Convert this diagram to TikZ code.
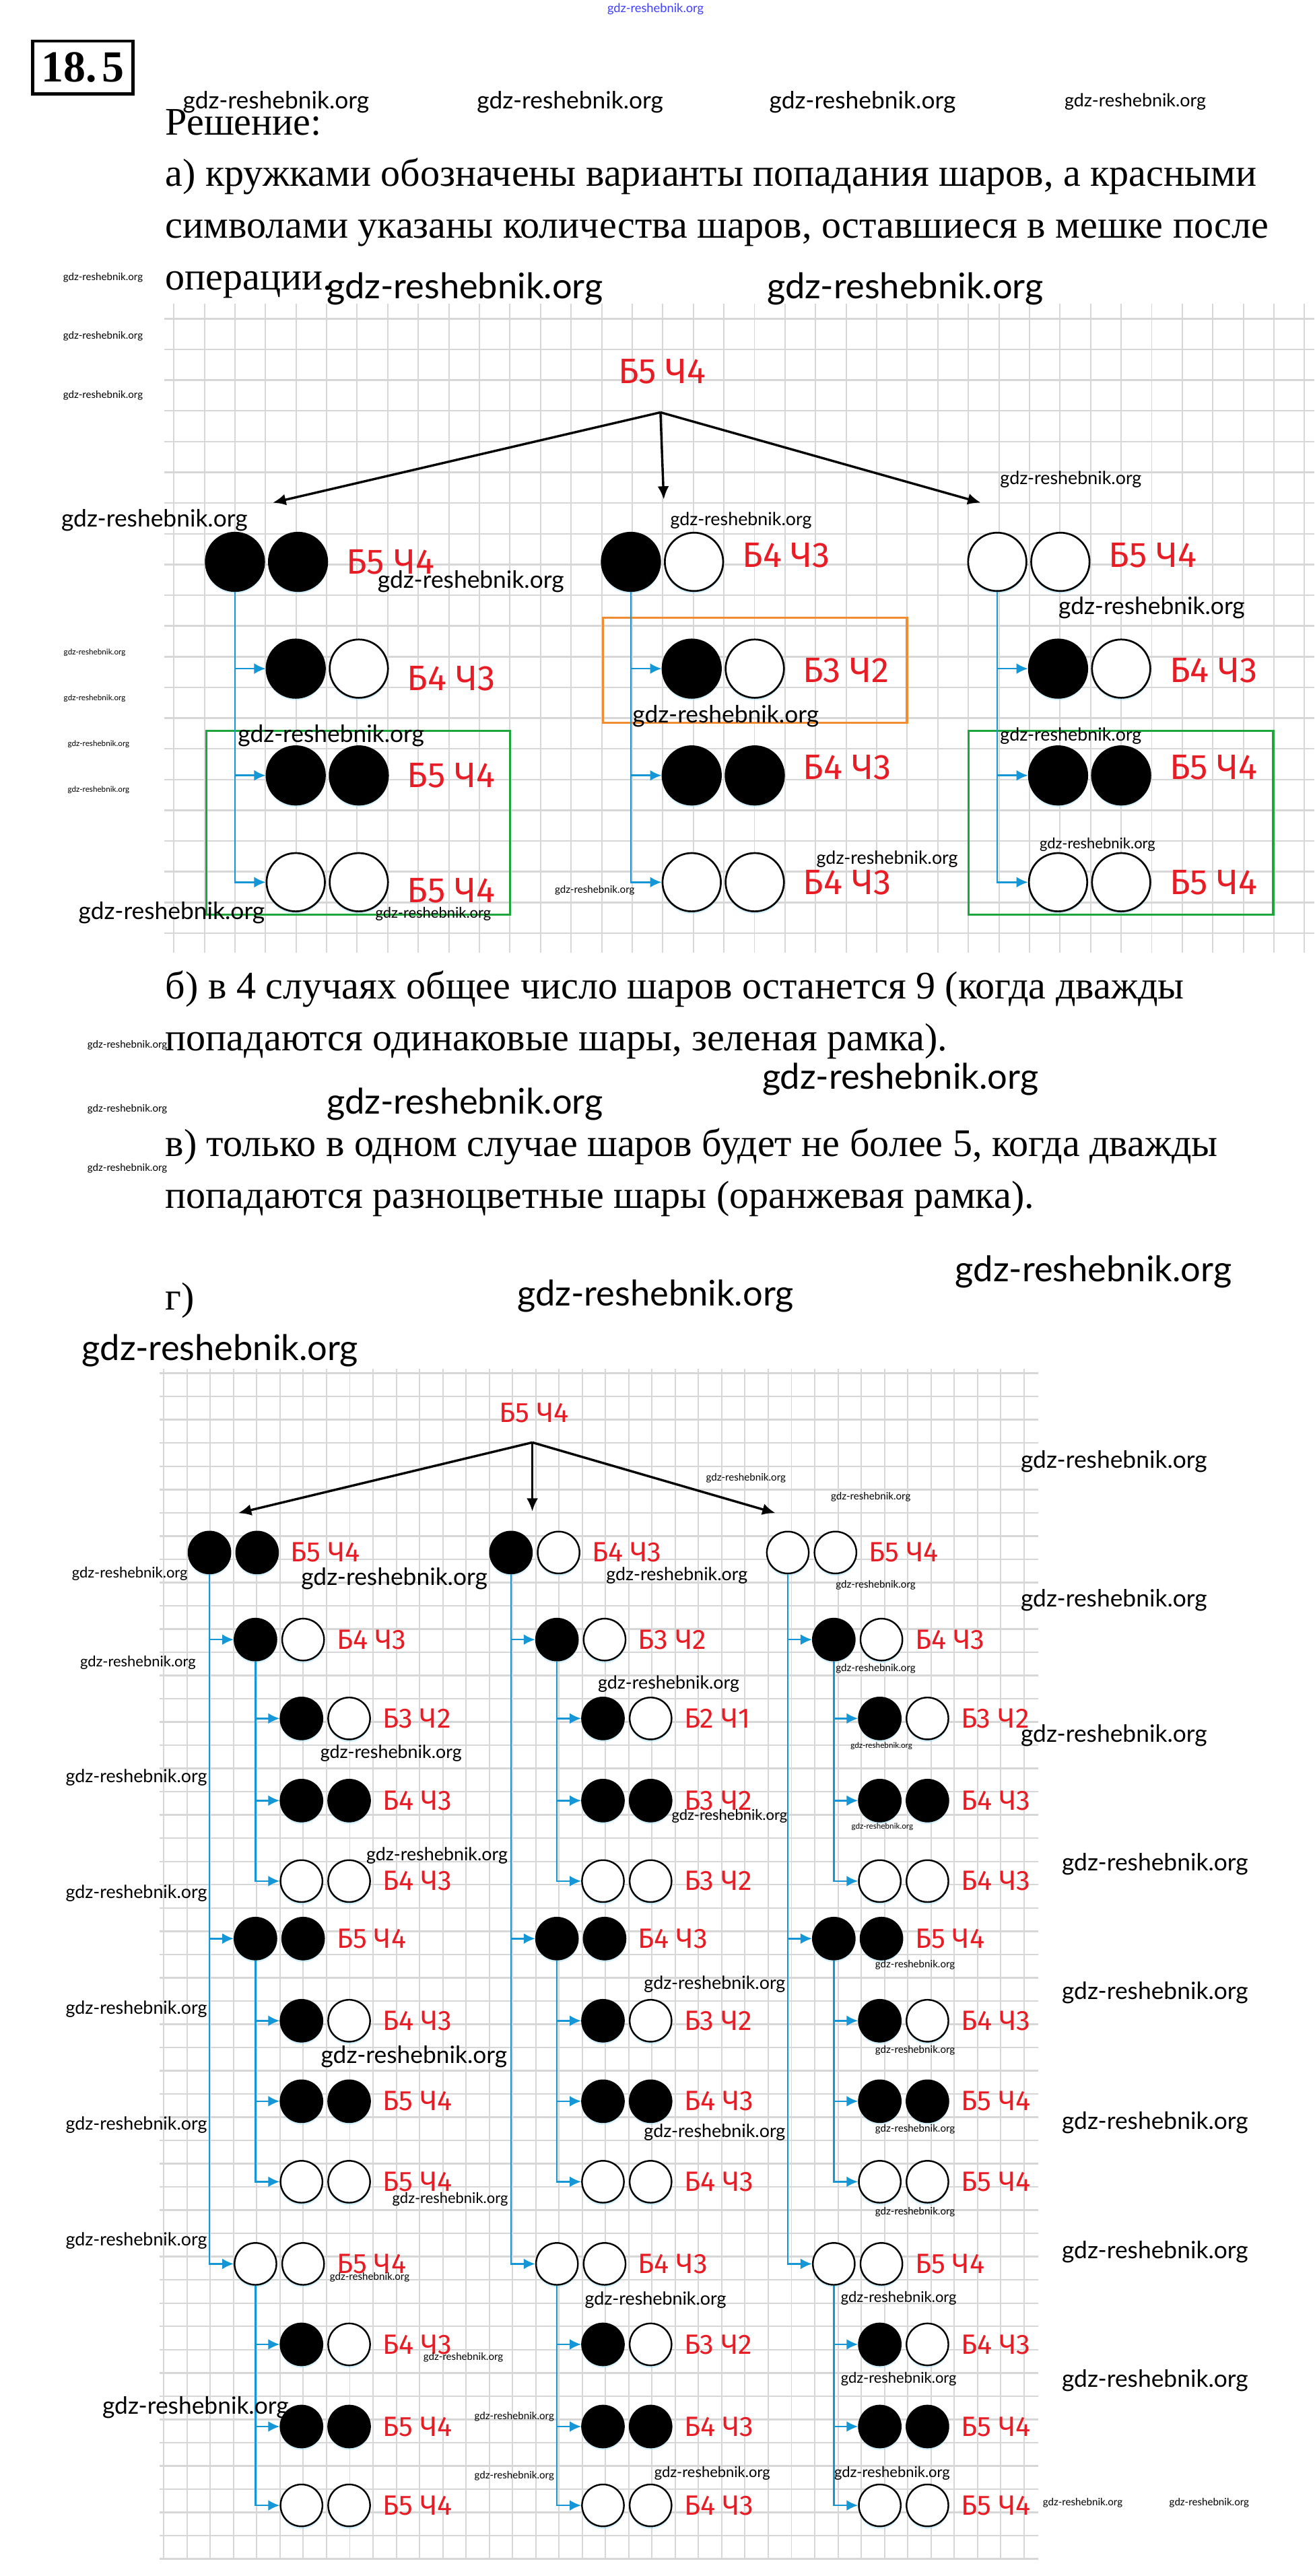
\documentclass[tikz,border=0pt]{standalone}
\usepackage{fontspec}
\setmainfont{Liberation Serif}
\newfontfamily\wmfont{Lato}
\newfontfamily\labfont{Fira Sans}
\usetikzlibrary{arrows.meta,positioning,shadows}
\definecolor{labred}{RGB}{232,28,36}
\definecolor{lineblue}{RGB}{20,150,215}
\definecolor{boxgreen}{RGB}{30,165,60}
\definecolor{boxorange}{RGB}{240,140,50}
\definecolor{gridgray}{RGB}{215,215,215}

\tikzset{
  ball/.style={circle, draw=black, line width=1.1pt, minimum size=35.5pt, inner sep=0pt,
    drop shadow={shadow xshift=0pt, shadow yshift=-1.5pt, fill=cyan!40, opacity=.45}},
  blk/.style={ball, fill=black},
  wht/.style={ball, fill=white},
  tally/.style={text=labred, inner sep=0pt, anchor=west, font=\labfont\fontsize{21.5}{22}\selectfont},
  feed/.style={draw=lineblue, line width=1pt, -{Latex[length=7pt,width=6.5pt]}},
  split/.style={draw=black, line width=1.4pt, -{Latex[length=8pt,width=7pt]}},
  textline/.style={anchor=base west, inner sep=0pt, font=\fontsize{23.8}{28}\selectfont},
  wm/.style={inner sep=0pt},
  gridv/.style={gridgray, line width=.8pt},
  gridh/.style={gridgray, line width=1pt},
  frame/.style={line width=1.3pt},
}

% pair of balls with the count beside it
\newcommand\pairat[7][0]{%
  \node[#5] (#2a) at (#3,#4) {};
  \node[#6, right=\pairgap of #2a] (#2b) {};
  \node[tally, right=\tallygap of #2b, yshift=#1pt] (#2t) {#7};
}
\def\pairgap{1.8pt}
\def\tallygap{11pt}

\begin{document}
\begin{tikzpicture}[x=1pt, y=-1pt]
  \useasboundingbox (0,0) rectangle (800,1568);
  \fill[white] (0,0) rectangle (800,1568);

  % grids
  \foreach \i in {0,...,37}
    \draw[gridv] (105.8+18.6*\i,185) -- (105.8+18.6*\i,580);
  \foreach \i in {0,...,20}
    \draw[gridh] (100,194+18.7*\i) -- (800,194+18.7*\i);
  \foreach \i in {0,...,37}
    \draw[gridv] (99.7+14.15*\i,833) -- (99.7+14.15*\i,1558);
  \foreach \i in {0,...,51}
    \draw[gridh] (97,835.9+14.15*\i) -- (632,835.9+14.15*\i);

  % text
  \node[draw, line width=2pt, inner sep=0pt, minimum width=61pt, minimum height=32pt,
        font=\bfseries\fontsize{27}{27}\selectfont] (num) at (50.5,41) {18.\kern3pt5};
  \node[textline] (sol) at (100.5,82) {Решение:};
  \node[textline] (pa1) at (100.5,113.5) {а) кружками обозначены варианты попадания шаров, а красными};
  \node[textline] (pa2) at (100.5,145) {символами указаны количества шаров, оставшиеся в мешке после};
  \node[textline] (pa3) at (100.5,176.5) {операции.};
  \node[textline] (pb1) at (100.5,608) {б) в 4 случаях общее число шаров останется 9 (когда дважды};
  \node[textline] (pb2) at (100.5,639.5) {попадаются одинаковые шары, зеленая рамка).};
  \node[textline] (pc1) at (100.5,704) {в) только в одном случае шаров будет не более 5, когда дважды};
  \node[textline] (pc2) at (100.5,735.5) {попадаются разноцветные шары (оранжевая рамка).};
  \node[textline] (pd) at (100.5,797.5) {г)};

  % part a
  \draw[boxorange, frame] (367,376) rectangle (552,440);
  \draw[boxgreen, frame] (125.5,445) rectangle (310.6,556.6);
  \draw[boxgreen, frame] (589.6,445) rectangle (775,556.6);

  \node[tally, anchor=center] (rootA) at (403,226) {Б5 Ч4};
  \coordinate (forkA) at (402,251);
  \coordinate (tipA1) at (166,306);
  \coordinate (tipA2) at (404,304);
  \coordinate (tipA3) at (597,306);
  \foreach \t in {tipA1,tipA2,tipA3}
    \draw[split] (forkA) -- (\t);

  \pairat{a1}{143}{342}{blk}{blk}{Б5 Ч4}
  \pairat[-6]{a2}{180}{407}{blk}{wht}{Б4 Ч3}
  \pairat{a3}{180}{472}{blk}{blk}{Б5 Ч4}
  \pairat[-5]{a4}{180}{537}{wht}{wht}{Б5 Ч4}
  \pairat[4]{b1}{384}{342}{blk}{wht}{Б4 Ч3}
  \pairat[-1]{b2}{421}{407}{blk}{wht}{Б3 Ч2}
  \pairat[5]{b3}{421}{472}{blk}{blk}{Б4 Ч3}
  \pairat{b4}{421}{537}{wht}{wht}{Б4 Ч3}
  \pairat[4]{c1}{607}{342}{wht}{wht}{Б5 Ч4}
  \pairat[-1]{c2}{644}{407}{blk}{wht}{Б4 Ч3}
  \pairat[5]{c3}{644}{472}{blk}{blk}{Б5 Ч4}
  \pairat{c4}{644}{537}{wht}{wht}{Б5 Ч4}

  \foreach \p in {a,b,c}
    \foreach \r in {2,3,4}
      \draw[feed] (\p1a.south) |- (\p\r a.west);

  % part g
  \begin{scope}[ball/.append style={minimum size=25.5pt, line width=1pt},
                tally/.append style={font=\labfont\fontsize{17}{17}\selectfont}]
    \def\pairgap{2.5pt}
    \def\tallygap{7pt}
    \node[tally, anchor=center] (rootG) at (325,860) {Б5 Ч4};
    \coordinate (forkG) at (324,878);
    \coordinate (tipG1) at (145,921);
    \coordinate (tipG2) at (324,920);
    \coordinate (tipG3) at (472,921);
    \foreach \t in {tipG1,tipG2,tipG3}
      \draw[split] (forkG) -- (\t);

    \foreach \col/\x/\fa/\fb/\n in {1/127.5/blk/blk/5, 2/311/blk/wht/4, 3/479.5/wht/wht/5}{
      \pgfmathtruncatemacro\m{\n-1}
      \pairat{g\col}{\x}{945}{\fa}{\fb}{Б\n\ Ч\m}
      \foreach \lv/\y/\sa/\sb/\d/\ya/\yb/\yc in
          {1/998/blk/wht/1/1046/1096/1145, 2/1180/blk/blk/0/1230/1279/1328, 3/1378/wht/wht/0/1427/1477/1525}{
        \pgfmathtruncatemacro\nn{\n-\d}
        \pgfmathtruncatemacro\mm{\nn-1}
        \pairat{g\col k\lv}{\x+28}{\y}{\sa}{\sb}{Б\nn\ Ч\mm}
        \draw[feed] (g\col a.south) |- (g\col k\lv a.west);
        \foreach \j/\yy/\ta/\tb/\e in {1/\ya/blk/wht/1, 2/\yb/blk/blk/0, 3/\yc/wht/wht/0}{
          \pgfmathtruncatemacro\bb{\nn-\e}
          \pgfmathtruncatemacro\cc{\bb-1}
          \pairat{g\col k\lv j\j}{\x+56}{\yy}{\ta}{\tb}{Б\bb\ Ч\cc}
          \draw[feed] (g\col k\lv a.south) |- (g\col k\lv j\j a.west);
        }
      }
    }
  \end{scope}

  % watermarks
  \node[wm, text=blue!75!white, font=\wmfont\fontsize{7.5}{7.5}\selectfont] (wmtop) at (399,5.5) {gdz-reshebnik.org};
  \foreach \x/\y/\s [count=\i] in {168/62/14.5, 347/62/14.5, 525/62/14.5, 691/62/11,
      283/176/21.5, 551/176/21.5, 62.7/169/6.2, 62.7/204.7/6.2, 62.7/240.6/6.2,
      651.8/292/11, 94/316.8/14.5, 451/316.8/11, 286.6/354/14.5, 701/370/14.5,
      57.6/397.3/4.8, 57.6/425/4.8, 441.7/436/14.5, 201.5/448/14.5, 651.8/448/11,
      60/453/4.8, 60/481/4.8, 668/514/9, 540/523/11, 362/542/6.2, 104.5/555.8/14.5, 263.7/556.3/9,
      77.5/636/6.2, 77.5/675/6.2, 77.5/711/6.2,
      548/657/21.5, 283/672/21.5, 665.6/774/21.5, 399/789/21.5, 134/822/21.5,
      678/889.4/14.5, 454/899.6/6.2, 530/911/6.2, 79/958/9, 240/960.8/14.5, 412/959/11,
      533/965/6.2, 678/974/14.5, 84/1012/9, 407/1025/11, 533/1015.7/6.2, 678/1056.4/14.5,
      238/1067/11, 536.5/1062.7/4.8, 83/1082/11, 444/1105.6/9, 537/1112/4.8, 266/1129.6/11,
      703/1134.8/14.5, 83/1152.6/11, 557/1196/6.2, 435/1207.7/11, 703/1213/14.5, 83/1223/11,
      252/1252/14.5, 557/1248/6.2, 83/1293.5/11, 435/1298/11, 557/1296/6.2, 703/1292/14.5,
      274/1338.7/9, 557/1346.5/6.2, 83/1364/11, 703/1370.6/14.5, 225/1386/6.2, 399/1400/11,
      547/1399/9, 282/1435/6.2, 547/1448/9, 703/1449/14.5, 119/1465.4/14.5, 313/1471/6.2,
      313/1507/6.2, 433.5/1505.5/9, 543/1505.5/9, 659/1523.5/6.2, 736/1523.5/6.2}
    \node[wm, font=\wmfont\fontsize{\s}{\s}\selectfont] (wm\i) at (\x,\y) {gdz-reshebnik.org};
\end{tikzpicture}
\end{document}
